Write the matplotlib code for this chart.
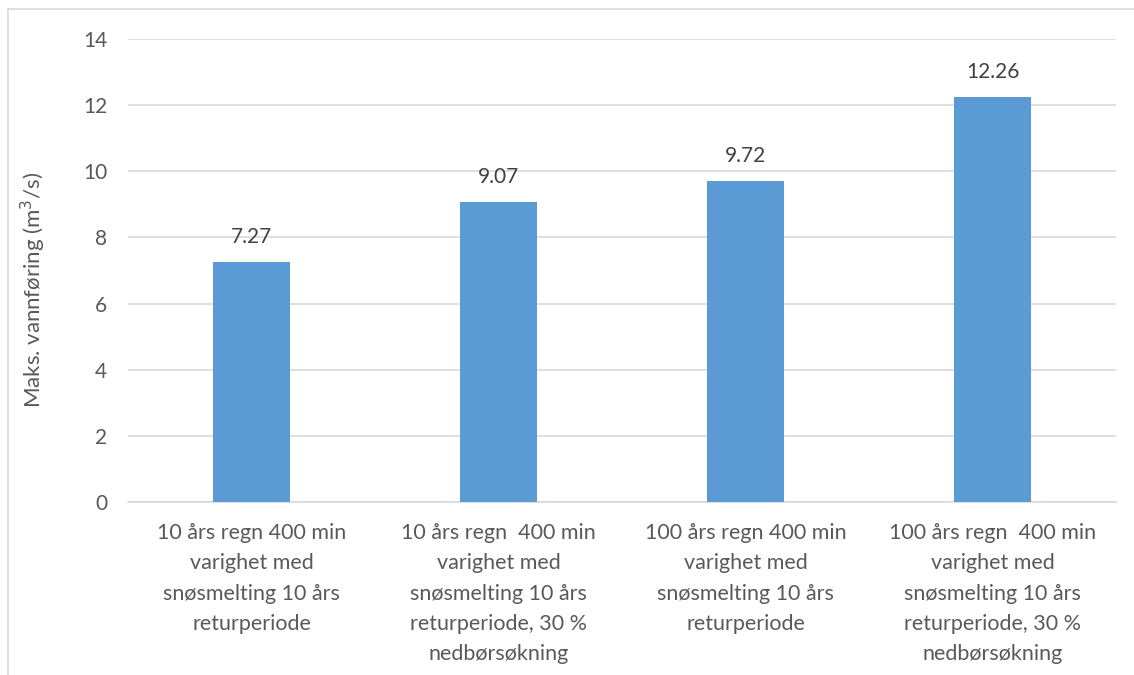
import numpy as np
import matplotlib.pyplot as plt
from matplotlib.lines import Line2D

# Data
categories = [
    "10 års regn 400 min\nvarighet med\nsnøsmelting 10 års\nreturperiode",
    "10 års regn  400 min\nvarighet med\nsnøsmelting 10 års\nreturperiode, 30 %\nnedbørsøkning",
    "100 års regn 400 min\nvarighet med\nsnøsmelting 10 års\nreturperiode",
    "100 års regn  400 min\nvarighet med\nsnøsmelting 10 års\nreturperiode, 30 %\nnedbørsøkning",
]
values = [7.27, 9.07, 9.72, 12.26]
value_labels = ["7.27", "9.07", "9.72", "12.26"]
yticks = [0, 2, 4, 6, 8, 10, 12, 14]

plt.rcParams['font.family'] = ['Lato', 'DejaVu Sans']
text_color = '#595959'

fig = plt.figure(figsize=(11.34, 6.75), dpi=100)
ax = fig.add_axes([0.1129, 0.2563, 0.8712, 0.6859])

x = np.arange(len(values))
bars = ax.bar(x, values, width=0.31, color='#5B9BD5', zorder=3)

for xi, v, lab in zip(x, values, value_labels):
    ax.text(xi, v + 0.45, lab, ha='center', va='bottom', fontsize=15, color='#404040')

ax.set_xlim(-0.5, len(values) - 0.5)
ax.set_ylim(0, 14)
ax.set_yticks(yticks)
ax.set_yticklabels([str(t) for t in yticks], fontsize=15, color=text_color)
ax.set_xticks(x)
ax.set_xticklabels(categories, fontsize=15.5, color=text_color, linespacing=1.65)
ax.tick_params(axis='both', length=0)
ax.tick_params(axis='y', pad=15)
ax.tick_params(axis='x', pad=15)

ax.grid(axis='y', color='#D9D9D9', linewidth=1.2, zorder=0)
for side in ['top', 'right', 'left']:
    ax.spines[side].set_visible(False)
ax.spines['bottom'].set_color('#D9D9D9')
ax.spines['bottom'].set_linewidth(1.2)

ax.set_ylabel("Maks. vannføring (m$^3$/s)", fontsize=16, color=text_color)
ax.yaxis.set_label_coords(-0.081, 0.458)

# chart area border (top and left edges visible)
fig.add_artist(Line2D([8 / 1134, 1.0], [1 - 9 / 675, 1 - 9 / 675], color='#D9D9D9', linewidth=1.2))
fig.add_artist(Line2D([8 / 1134, 8 / 1134], [0, 1 - 9 / 675], color='#D9D9D9', linewidth=1.2))

fig.savefig('out.png', dpi=100)
